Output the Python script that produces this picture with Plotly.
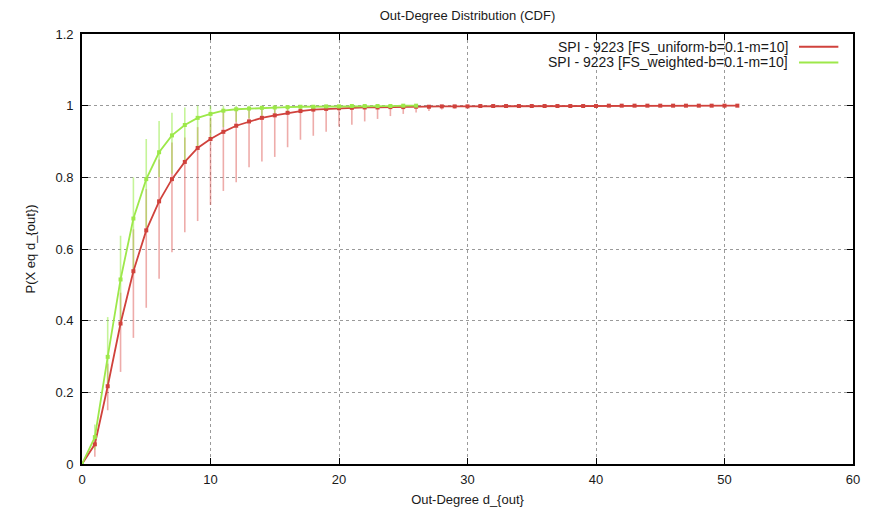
import plotly.graph_objects as go

# ---- data ----
red_x = list(range(0, 52))
red_y = [0.0, 0.055, 0.217, 0.392, 0.538, 0.652, 0.733, 0.795, 0.843, 0.882, 0.907,
         0.927, 0.944, 0.956, 0.966, 0.973, 0.980, 0.985, 0.989, 0.991, 0.993,
         0.994, 0.995, 0.995, 0.996, 0.996, 0.997, 0.997, 0.998, 0.998, 0.998,
         0.999, 0.999, 0.999, 0.999, 0.999, 0.999, 0.999, 0.999, 0.999, 0.999,
         1.0, 1.0, 1.0, 1.0, 1.0, 1.0, 1.0, 1.0, 1.0, 1.0, 1.0]
red_hi = [0.0, 0.07, 0.28, 0.478, 0.655, 0.767, 0.85, 0.897, 0.911, 0.94, 0.965,
          0.985, 0.99, 0.995, 0.997, 0.998, 0.999, 1.0, 1.0, 1.0, 1.0,
          1.0, 1.0, 1.0, 1.0, 1.0, 1.0, 1.0, 1.0, 1.0, 1.0,
          1.0, 1.0, 1.0, 1.0, 1.0, 1.0, 1.0, 1.0, 1.0, 1.0,
          1.0, 1.0, 1.0, 1.0, 1.0, 1.0, 1.0, 1.0, 1.0, 1.0, 1.0]
red_lo = [0.0, 0.02, 0.15, 0.257, 0.352, 0.436, 0.517, 0.591, 0.647, 0.678, 0.723,
          0.762, 0.786, 0.828, 0.844, 0.857, 0.884, 0.905, 0.916, 0.927, 0.942,
          0.947, 0.956, 0.963, 0.971, 0.977, 0.981, 0.985, 0.989, 0.992, 0.994,
          0.995, 0.996, 0.997, 0.997, 0.998, 0.998, 0.998, 0.998, 0.998, 0.999,
          0.999, 0.999, 0.999, 0.999, 0.999, 0.999, 0.999, 0.999, 0.999, 0.999, 1.0]

green_x = list(range(0, 27))
green_y = [0.0, 0.075, 0.299, 0.515, 0.685, 0.795, 0.870, 0.917, 0.946, 0.966, 0.977,
           0.986, 0.990, 0.992, 0.994, 0.995, 0.996, 0.997, 0.997, 0.998, 0.998,
           0.999, 0.999, 0.999, 0.999, 1.0, 1.0]
green_hi = [0.0, 0.11, 0.41, 0.637, 0.80, 0.907, 0.957, 0.98, 0.995, 1.0, 1.0,
            1.0, 1.0, 1.0, 1.0, 1.0, 1.0, 1.0, 1.0, 1.0, 1.0,
            1.0, 1.0, 1.0, 1.0, 1.0, 1.0]
green_lo = [0.0, 0.04, 0.22, 0.39, 0.53, 0.66, 0.80, 0.81, 0.846, 0.884, 0.91,
            0.94, 0.955, 0.965, 0.972, 0.978, 0.983, 0.987, 0.99, 0.992, 0.994,
            0.995, 0.996, 0.997, 0.998, 0.999, 1.0]

red_name = "SPI - 9223 [FS_uniform-b=0.1-m=10]"
green_name = "SPI - 9223 [FS_weighted-b=0.1-m=10]"

title = "Out-Degree Distribution (CDF)"
x_title = "Out-Degree d_{out}"
y_title = "P(X eq d_{out})"

x_ticks = [0, 10, 20, 30, 40, 50, 60]
y_ticks = [0, 0.2, 0.4, 0.6, 0.8, 1.0, 1.2]
y_tick_text = ["0", "0.2", "0.4", "0.6", "0.8", "1", "1.2"]

RED = "#d0423c"
RED_BAR = "rgba(222,90,85,0.5)"
GREEN = "#9de84a"
GREEN_BAR = "rgba(150,235,70,0.55)"

fig = go.Figure()

# error bars first (underneath the lines)
fig.add_trace(go.Scatter(
    x=red_x, y=red_y, mode="markers", marker=dict(size=0.1, color=RED_BAR),
    error_y=dict(type="data", symmetric=False,
                 array=[h - m for h, m in zip(red_hi, red_y)],
                 arrayminus=[m - l for m, l in zip(red_y, red_lo)],
                 color=RED_BAR, thickness=1.6, width=0),
    showlegend=False, hoverinfo="skip"))
fig.add_trace(go.Scatter(
    x=green_x, y=green_y, mode="markers", marker=dict(size=0.1, color=GREEN_BAR),
    error_y=dict(type="data", symmetric=False,
                 array=[h - m for h, m in zip(green_hi, green_y)],
                 arrayminus=[m - l for m, l in zip(green_y, green_lo)],
                 color=GREEN_BAR, thickness=1.6, width=0),
    showlegend=False, hoverinfo="skip"))

fig.add_trace(go.Scatter(
    x=red_x, y=red_y, mode="lines+markers", name=red_name,
    line=dict(color=RED, width=1.8),
    marker=dict(symbol="square", size=4, color=RED), showlegend=False))
fig.add_trace(go.Scatter(
    x=green_x, y=green_y, mode="lines+markers", name=green_name,
    line=dict(color=GREEN, width=1.8),
    marker=dict(symbol="square", size=4, color=GREEN), showlegend=False))

FAM = "Liberation Sans, Arial, sans-serif"
INK = "#1a1a1a"

# The page body has an 8px margin, so the figure is 8px smaller each way.
W, H = 867, 501

# legend (gnuplot style: right-aligned text, sample line on the right)
legend_items = [(red_name, RED, 0.9705), (green_name, GREEN, 0.934)]
annotations = []
shapes = []
for name, col, yy in legend_items:
    annotations.append(dict(text=name, xref="paper", yref="paper", x=0.918, y=yy,
                            xanchor="right", yanchor="middle", showarrow=False,
                            font=dict(family=FAM, size=14, color=INK)))
    shapes.append(dict(type="line", xref="paper", yref="paper", x0=0.930, x1=0.981,
                       y0=yy, y1=yy, line=dict(color=col, width=2)))

axis_common = dict(
    showgrid=True, gridcolor="#9a9a9a", griddash="dot", gridwidth=1,
    showline=True, linecolor="black", linewidth=1.6, mirror="ticks",
    ticks="inside", ticklen=6, tickcolor="black", zeroline=False,
    automargin=False,
    tickfont=dict(family=FAM, size=13, color=INK),
)

fig.update_layout(
    width=W, height=H,
    margin=dict(l=74, r=22, t=26, b=45),
    paper_bgcolor="white", plot_bgcolor="white",
    font=dict(family=FAM, size=12, color=INK),
    title=dict(text=title, x=(74 + 771 / 2) / W, xanchor="center",
               y=1 - 7 / H, yanchor="middle",
               font=dict(family=FAM, size=13, color=INK)),
    annotations=annotations, shapes=shapes,
    xaxis=dict(range=[0, 60], tickvals=x_ticks, ticklabelstandoff=3, **axis_common,
               title=dict(text=x_title, standoff=8,
                          font=dict(family=FAM, size=13, color=INK))),
    yaxis=dict(range=[0, 1.2], tickvals=y_ticks, ticktext=y_tick_text,
               ticklabelstandoff=4, **axis_common,
               title=dict(text=y_title, standoff=17,
                          font=dict(family=FAM, size=13, color=INK))),
)

fig.write_html("out.html")
